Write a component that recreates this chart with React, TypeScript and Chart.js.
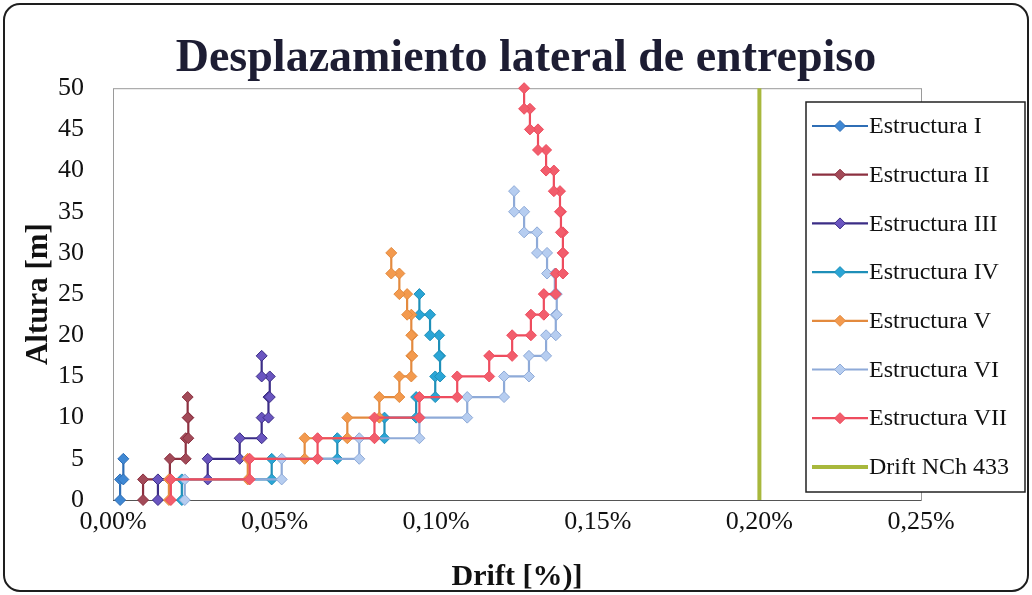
import { useEffect, useRef } from "react";
import { Chart, registerables } from "chart.js";

Chart.register(...registerables);

// Floor levels [m]; every story is 2.5 m high
const storyLevels = [0, 2.5, 5, 7.5, 10, 12.5, 15, 17.5, 20, 22.5, 25, 27.5, 30, 32.5, 35, 37.5, 40, 42.5, 45, 47.5, 50];

// Interstory drift per story [%], from the ground story upward
const driftI = [0.0022, 0.0032];
const driftII = [0.0093, 0.0176, 0.0225, 0.0233, 0.0231];
const driftIII = [0.0139, 0.0293, 0.0392, 0.046, 0.0481, 0.0485, 0.046];
const driftIV = [0.0213, 0.0491, 0.0694, 0.084, 0.0938, 0.0997, 0.1012, 0.1009, 0.0981, 0.0948];
const driftV = [0.0173, 0.0417, 0.0593, 0.0725, 0.0824, 0.0886, 0.0923, 0.0926, 0.0923, 0.091, 0.0886, 0.0861];
const driftVI = [0.0222, 0.0522, 0.0762, 0.0948, 0.1096, 0.121, 0.1287, 0.134, 0.137, 0.1373, 0.1367, 0.1343, 0.1312, 0.1272, 0.1241];
const driftVII = [0.0179, 0.0423, 0.0633, 0.0809, 0.0948, 0.1065, 0.1164, 0.1235, 0.1293, 0.1333, 0.137, 0.1392, 0.1392, 0.1386, 0.1383, 0.1364, 0.134, 0.1315, 0.129, 0.1272];

const seriesNames = ["Estructura I", "Estructura II", "Estructura III", "Estructura IV", "Estructura V", "Estructura VI", "Estructura VII"];
const seriesDrifts = [driftI, driftII, driftIII, driftIV, driftV, driftVI, driftVII];
const lineColors = ["#2f6eb5", "#8c3040", "#3b2d86", "#1e8fb8", "#e38a3e", "#8eaad8", "#ee4c5e"];
const markerColors = ["#3f88d4", "#a24a58", "#6a55c0", "#2aa5d6", "#f39a4e", "#b6cdf0", "#f25d6c"];

// Code limit (NCh 433)
const limitName = "Drift NCh 433";
const limitDrift = 0.2;
const limitColor = "#a8b83c";

const xTickValues = [0, 0.05, 0.1, 0.15, 0.2, 0.25];
const yTickValues = [0, 5, 10, 15, 20, 25, 30, 35, 40, 45, 50];

const chartTitle = "Desplazamiento lateral de entrepiso";
const xTitle = "Drift [%)]";
const yTitle = "Altura [m]";

const SERIF = "'Liberation Serif', 'Times New Roman', serif";

// Step profile: each story drift is held constant between its floor and ceiling
function stepProfile(drifts: number[]) {
  const pts: { x: number; y: number }[] = [];
  drifts.forEach((d, i) => {
    pts.push({ x: d, y: storyLevels[i] });
    pts.push({ x: d, y: storyLevels[i + 1] });
  });
  return pts;
}

const frameAndPlotBorder = {
  id: "frameAndPlotBorder",
  beforeDraw(chart: any) {
    const { ctx, width, height } = chart;
    ctx.save();
    ctx.fillStyle = "#ffffff";
    ctx.fillRect(0, 0, width, height);
    ctx.strokeStyle = "#1e1e1e";
    ctx.lineWidth = 2;
    ctx.beginPath();
    ctx.roundRect(4, 4, width - 8, height - 8, 16);
    ctx.stroke();
    ctx.restore();
  },
  beforeDatasetsDraw(chart: any) {
    const { ctx, chartArea: a } = chart;
    ctx.save();
    ctx.strokeStyle = "#9a9a9a";
    ctx.lineWidth = 1;
    ctx.strokeRect(a.left + 0.5, a.top + 0.5, a.right - a.left, a.bottom - a.top);
    ctx.strokeStyle = "#555555";
    ctx.beginPath();
    ctx.moveTo(a.left, a.bottom + 0.5);
    ctx.lineTo(a.right, a.bottom + 0.5);
    ctx.stroke();
    ctx.restore();
  },
};

function drawDiamond(ctx: CanvasRenderingContext2D, x: number, y: number, r: number, fill: string, stroke: string) {
  ctx.beginPath();
  ctx.moveTo(x, y - r);
  ctx.lineTo(x + r, y);
  ctx.lineTo(x, y + r);
  ctx.lineTo(x - r, y);
  ctx.closePath();
  ctx.fillStyle = fill;
  ctx.fill();
  ctx.strokeStyle = stroke;
  ctx.lineWidth = 1;
  ctx.stroke();
}

const boxLegend = {
  id: "boxLegend",
  afterDraw(chart: any) {
    const { ctx } = chart;
    const x0 = 806;
    const y0 = 102;
    const w = 219;
    const h = 390;
    ctx.save();
    ctx.fillStyle = "#ffffff";
    ctx.fillRect(x0, y0, w, h);
    ctx.strokeStyle = "#222222";
    ctx.lineWidth = 1.5;
    ctx.strokeRect(x0, y0, w, h);
    chart.data.datasets.forEach((ds: any, i: number) => {
      const cy = y0 + 24 + i * 48.7;
      ctx.strokeStyle = ds.borderColor;
      ctx.lineWidth = ds.borderWidth;
      ctx.beginPath();
      ctx.moveTo(x0 + 6, cy);
      ctx.lineTo(x0 + 62, cy);
      ctx.stroke();
      if (ds.pointRadius > 0) {
        drawDiamond(ctx, x0 + 34, cy, 5.5, ds.pointBackgroundColor, ds.pointBorderColor);
      }
      ctx.fillStyle = "#111111";
      ctx.font = `24px ${SERIF}`;
      ctx.textAlign = "left";
      ctx.textBaseline = "middle";
      ctx.fillText(ds.label, x0 + 63, cy + 1);
    });
    ctx.restore();
  },
};

export default function App() {
  const canvasRef = useRef<HTMLCanvasElement>(null);

  useEffect(() => {
    const canvas = canvasRef.current;
    if (!canvas) return;

    const structureSets = seriesNames.map((name, i) => ({
      label: name,
      data: stepProfile(seriesDrifts[i]),
      showLine: true,
      borderColor: lineColors[i],
      backgroundColor: markerColors[i],
      borderWidth: 2.2,
      tension: 0,
      pointStyle: "rectRot" as const,
      pointRadius: 5.5,
      pointBackgroundColor: markerColors[i],
      pointBorderColor: lineColors[i],
      pointBorderWidth: 1,
      clip: false as const,
      order: seriesNames.length - i,
    }));

    const limitSet = {
      label: limitName,
      data: [
        { x: limitDrift, y: storyLevels[0] },
        { x: limitDrift, y: storyLevels[storyLevels.length - 1] },
      ],
      showLine: true,
      borderColor: limitColor,
      backgroundColor: limitColor,
      borderWidth: 4,
      pointRadius: 0,
      pointBackgroundColor: limitColor,
      pointBorderColor: limitColor,
      clip: false as const,
      order: 0,
    };

    const chart = new Chart(canvas, {
      type: "scatter",
      data: { datasets: [...structureSets, limitSet] as any },
      options: {
        responsive: false,
        animation: false,
        devicePixelRatio: 1,
        layout: { padding: { left: 20, right: 0, top: 0, bottom: 0 } },
        plugins: {
          legend: { display: false },
          tooltip: { enabled: false },
          title: {
            display: true,
            text: chartTitle,
            color: "#1d1d33",
            font: { family: SERIF, size: 46, weight: "bold" },
            padding: { top: 32, bottom: 1 },
          },
        },
        scales: {
          x: {
            type: "linear",
            min: xTickValues[0],
            max: xTickValues[xTickValues.length - 1],
            grid: { display: false, drawTicks: false },
            border: { display: false },
            afterBuildTicks: (scale: any) => {
              scale.ticks = xTickValues.map((v) => ({ value: v }));
            },
            ticks: {
              padding: 7,
              color: "#111111",
              font: { family: SERIF, size: 26 },
              callback: (v: any) => Number(v).toFixed(2).replace(".", ",") + "%",
            },
            title: {
              display: true,
              text: xTitle,
              color: "#111111",
              font: { family: SERIF, size: 30, weight: "bold" },
              padding: { top: 0, bottom: 0 },
            },
            afterFit: (scale: any) => {
              scale.height = 95;
            },
          },
          y: {
            type: "linear",
            min: yTickValues[0],
            max: yTickValues[yTickValues.length - 1],
            grid: { display: false, drawTicks: false },
            border: { display: false },
            afterBuildTicks: (scale: any) => {
              scale.ticks = yTickValues.map((v) => ({ value: v }));
            },
            ticks: {
              padding: 29,
              color: "#111111",
              font: { family: SERIF, size: 26 },
              callback: (v: any) => String(v),
            },
            title: {
              display: true,
              text: yTitle,
              color: "#111111",
              font: { family: SERIF, size: 31, weight: "bold" },
              padding: { top: 0, bottom: 0 },
            },
            afterFit: (scale: any) => {
              scale.width = 93;
            },
          },
          // empty right-hand band that leaves room for the legend box
          yRight: {
            type: "linear",
            position: "right",
            display: true,
            min: yTickValues[0],
            max: yTickValues[yTickValues.length - 1],
            grid: { display: false, drawTicks: false },
            border: { display: false },
            ticks: { display: false },
            afterFit: (scale: any) => {
              scale.width = 111;
            },
          },
        },
      },
      plugins: [frameAndPlotBorder, boxLegend],
    });

    return () => chart.destroy();
  }, []);

  return (
    <div style={{ position: "absolute", left: 0, top: 0, width: 1032, height: 595, background: "#ffffff" }}>
      <canvas ref={canvasRef} width={1032} height={595} style={{ display: "block", width: 1032, height: 595 }} />
    </div>
  );
}
